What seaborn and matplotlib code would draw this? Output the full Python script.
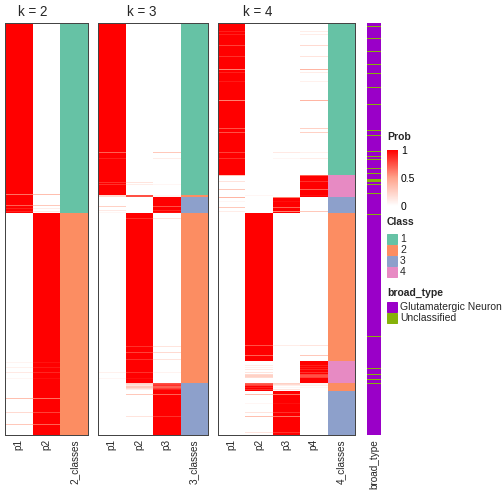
import numpy as np
import pandas as pd
import matplotlib
matplotlib.use("Agg")
import matplotlib.pyplot as plt
import seaborn as sns
from matplotlib.colors import LinearSegmentedColormap, ListedColormap
from matplotlib.patches import Rectangle

sns.set_theme(style="white")
plt.rcParams["font.family"] = ["Liberation Sans", "DejaVu Sans"]

N_ROWS = 412

# class runs per k, top to bottom: (class, number of rows)
classes_k2 = [(1, 190), (2, 222)]
classes_k3 = [(1, 172), (2, 2), (3, 16), (2, 170), (3, 52)]
classes_k4 = [(1, 152), (4, 22), (3, 16), (2, 148), (4, 22), (2, 8), (3, 44)]

# rows that are not a clean 0/1 membership: row -> (p1, ..., pk)
mixed_k2 = {
    171: (0.65, 0.35), 182: (0.7, 0.3), 185: (0.9, 0.1), 188: (0.88, 0.12),
    339: (0.06, 0.94), 344: (0.08, 0.92), 349: (0.12, 0.88), 355: (0.05, 0.95),
    375: (0.35, 0.65), 389: (0.2, 0.8), 401: (0.3, 0.7),
}
mixed_k3 = {
    129: (0.7, 0.0, 0.3), 135: (0.9, 0.0, 0.1), 159: (0.85, 0.15, 0.0),
    161: (0.85, 0.1, 0.05), 172: (0.2, 0.75, 0.05), 173: (0.2, 0.75, 0.05),
    183: (0.25, 0.0, 0.75), 187: (0.12, 0.0, 0.88), 189: (0.05, 0.0, 0.95),
    195: (0.0, 0.85, 0.15), 323: (0.0, 0.85, 0.15), 329: (0.0, 0.8, 0.2),
    336: (0.0, 0.85, 0.15), 349: (0.08, 0.85, 0.07), 355: (0.05, 0.95, 0.0),
    360: (0.0, 0.25, 0.75), 361: (0.0, 0.2, 0.8), 362: (0.0, 0.15, 0.85),
    363: (0.0, 0.3, 0.7), 364: (0.0, 0.3, 0.7), 365: (0.0, 0.2, 0.8),
    366: (0.0, 0.1, 0.9), 371: (0.0, 0.3, 0.7), 393: (0.0, 0.15, 0.85),
}
mixed_k4 = {
    8: (0.9, 0, 0, 0.1), 11: (0.9, 0, 0, 0.1), 22: (0.8, 0, 0, 0.2),
    33: (0.85, 0, 0, 0.15), 46: (0.6, 0, 0, 0.4), 49: (0.9, 0, 0, 0.1),
    58: (0.92, 0, 0, 0.08), 77: (0.6, 0, 0, 0.4), 105: (0.75, 0, 0, 0.25),
    109: (0.75, 0, 0, 0.25), 129: (0.8, 0, 0.12, 0.08), 135: (0.85, 0, 0.05, 0.1),
    152: (0.3, 0, 0, 0.7), 158: (0.15, 0, 0, 0.85), 166: (0.3, 0, 0, 0.7),
    172: (0.0, 0.05, 0, 0.95), 174: (0.4, 0, 0.6, 0), 178: (0.05, 0, 0.95, 0),
    184: (0.3, 0, 0.7, 0), 188: (0.1, 0, 0.6, 0.3),
    322: (0, 0.75, 0.1, 0.15), 332: (0, 0.7, 0, 0.3),
    342: (0, 0.1, 0, 0.9), 344: (0, 0.08, 0, 0.92), 346: (0, 0.12, 0, 0.88),
    349: (0, 0.15, 0, 0.85), 351: (0, 0.2, 0, 0.8), 352: (0, 0.25, 0, 0.75),
    353: (0, 0.25, 0, 0.75), 354: (0, 0.2, 0, 0.8),
    360: (0, 0.7, 0.25, 0.05), 361: (0, 0.75, 0.2, 0.05), 362: (0, 0.8, 0.1, 0.1),
    364: (0, 0.9, 0.05, 0.05), 366: (0, 0.85, 0.15, 0),
    371: (0, 0.35, 0.65, 0), 380: (0, 0.05, 0.95, 0), 389: (0, 0.15, 0.85, 0),
    393: (0, 0.35, 0.65, 0), 409: (0, 0.15, 0.85, 0),
}

# rows annotated "Unclassified" (rest are Glutamatergic Neuron)
unclassified_rows = [3, 15, 28, 41, 50, 64, 81, 107, 112, 128, 133, 136, 145,
                     150, 156, 157, 158, 161, 170, 191, 313, 345, 351, 356, 360]

class_colors = ["#66C2A5", "#FC8D62", "#8DA0CB", "#E78AC3"]
type_names = ["Glutamatergic Neuron", "Unclassified"]
type_colors = ["#9A00C8", "#86B20A"]

prob_cmap = LinearSegmentedColormap.from_list("prob", ["#FFFFFF", "#FFA38C", "#FF0000"])
class_cmap = ListedColormap(class_colors)

W = H = 504


def px(x0, y0, x1, y1):
    # pixel box (top-left origin) -> figure fraction rect
    return [x0 / W, 1 - y1 / H, (x1 - x0) / W, (y1 - y0) / H]


def build(runs, mixed, k):
    cls = np.concatenate([[c] * n for c, n in runs]).astype(int)
    prob = np.zeros((len(cls), k))
    prob[np.arange(len(cls)), cls - 1] = 1.0
    for r, p in mixed.items():
        prob[r] = p
    return cls, prob


def frame(ax):
    for s in ax.spines.values():
        s.set_visible(True)
        s.set_color("#444444")
        s.set_linewidth(1)


def draw_panel(ax, k, cls, prob, title_x):
    cols = [f"p{i}" for i in range(1, k + 1)] + [f"{k}_classes"]
    df = pd.DataFrame(np.column_stack([prob, cls]).astype(float), columns=cols)
    pmask = np.zeros(df.shape, dtype=bool)
    pmask[:, k] = True
    sns.heatmap(df, mask=pmask, cmap=prob_cmap, vmin=0, vmax=1, cbar=False,
                ax=ax, xticklabels=True, yticklabels=False)
    sns.heatmap(df, mask=~pmask, cmap=class_cmap, vmin=0.5, vmax=4.5, cbar=False,
                ax=ax, xticklabels=True, yticklabels=False)
    fig.text(title_x / W, 1 - 12 / H, f"k = {k}", fontsize=13.5, ha="center", va="center")
    ax.tick_params(axis="x", length=0, pad=4, labelsize=10, labelrotation=90)
    frame(ax)


fig = plt.figure(figsize=(7, 7), dpi=72)

ax2 = fig.add_axes(px(5, 23, 88, 435))
ax3 = fig.add_axes(px(98, 23, 208, 435))
ax4 = fig.add_axes(px(218, 23, 355, 435))
axb = fig.add_axes(px(367, 23, 381, 435))

for ax, k, runs, mixed, tx in [(ax2, 2, classes_k2, mixed_k2, 33),
                               (ax3, 3, classes_k3, mixed_k3, 142),
                               (ax4, 4, classes_k4, mixed_k4, 258)]:
    cls, prob = build(runs, mixed, k)
    draw_panel(ax, k, cls, prob, tx)

btype = np.zeros(N_ROWS)
btype[unclassified_rows] = 1
sns.heatmap(pd.DataFrame({"broad_type": btype}), cmap=ListedColormap(type_colors),
            vmin=-0.5, vmax=1.5, cbar=False, ax=axb, xticklabels=True, yticklabels=False)
axb.tick_params(axis="x", length=0, pad=4, labelsize=10, labelrotation=90)

# legends
fs = 10.4
fig.text(387 / W, 1 - 137 / H, "Prob", fontsize=fs, fontweight="bold", va="center")
cax = fig.add_axes(px(387, 150, 398, 206))
cb = fig.colorbar(ax2.collections[0], cax=cax, ticks=[0, 0.5, 1])
cb.outline.set_visible(False)
cax.set_yticklabels(["0", "0.5", "1"])
cax.tick_params(axis="y", direction="in", length=3, width=1, color="white",
                labelcolor="black", labelsize=fs, pad=3)

fig.text(387 / W, 1 - 222 / H, "Class", fontsize=fs, fontweight="bold", va="center")
for i, c in enumerate(class_colors):
    y0 = 234 + i * 11
    fig.patches.append(Rectangle((387 / W, 1 - (y0 + 10) / H), 10 / W, 10 / H,
                                 transform=fig.transFigure, color=c))
    fig.text(400 / W, 1 - (y0 + 5) / H, str(i + 1), fontsize=fs, va="center")

fig.text(387 / W, 1 - 293 / H, "broad_type", fontsize=fs, fontweight="bold", va="center")
for i, (name, c) in enumerate(zip(type_names, type_colors)):
    y0 = 302 + i * 11
    fig.patches.append(Rectangle((387 / W, 1 - (y0 + 10) / H), 10 / W, 10 / H,
                                 transform=fig.transFigure, color=c))
    fig.text(400 / W, 1 - (y0 + 5) / H, name, fontsize=fs, va="center")

fig.savefig("out.png", dpi=72)
